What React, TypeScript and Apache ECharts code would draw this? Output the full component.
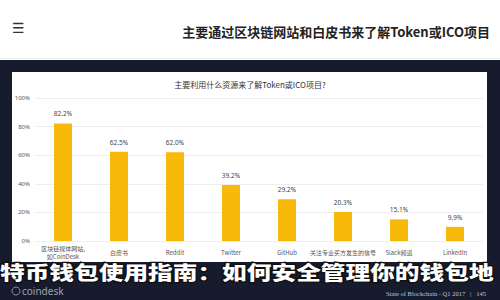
import React, { useEffect, useRef } from "react";
import * as echarts from "echarts";

const categories = [
  "区块链媒体网站,\n如CoinDesk",
  "白皮书",
  "Reddit",
  "Twitter",
  "GitHub",
  "关注专业买方发生的信号",
  "Slack频道",
  "LinkedIn",
];
const values = [82.2, 62.5, 62.0, 39.2, 29.2, 20.3, 15.1, 9.9];
const yTicks = [0, 20, 40, 60, 80, 100];
const pageTitle = "主要通过区块链网站和白皮书来了解Token或ICO项目";
const chartTitle = "主要利用什么资源来了解Token或ICO项目?";
const overlayText = "特币钱包使用指南：如何安全管理你的钱包地";
const footerText = "State of Blockchain - Q1 2017   |   145";

export default function App() {
  const ref = useRef<HTMLDivElement>(null);
  useEffect(() => {
    if (!ref.current) return;
    const chart = echarts.init(ref.current, null, { renderer: "svg" });
    chart.setOption({
      animation: false,
      backgroundColor: "#ffffff",
      graphic: [
        { type: "rect", z: -10, shape: { x: 0, y: 60, width: 500, height: 240 }, style: { fill: "#161b2d" } },
        { type: "line", z: -10, shape: { x1: 0, y1: 58.5, x2: 500, y2: 58.5 }, style: { stroke: "#eeeeee", lineWidth: 1 } },
        { type: "rect", z: -9, shape: { x: 12, y: 72, width: 475, height: 190 }, style: { fill: "#ffffff" } },
        {
          type: "text", x: 12, y: 28,
          style: { text: "☰", fontSize: 14, fill: "#333", verticalAlign: "middle", fontFamily: "DejaVu Sans" },
        },
        {
          type: "text", x: 490, y: 31,
          style: {
            text: pageTitle, fontSize: 13, fontWeight: "bold", fill: "#222", align: "right", verticalAlign: "middle",
            fontFamily: "Noto Sans CJK SC",
          },
        },
        {
          type: "text", x: 250, y: 84,
          style: {
            text: chartTitle, fontSize: 8, fill: "#333", align: "center", verticalAlign: "middle",
            fontFamily: "Noto Sans CJK SC",
          },
        },
        {
          type: "text", x: 0, y: 271, z: 20, scaleX: 1.3,
          style: {
            text: overlayText, fontSize: 19, fontWeight: 900, fill: "#ffffff", stroke: "#111111", lineWidth: 2.5,
            verticalAlign: "middle", fontFamily: "Noto Sans CJK SC",
          },
        },
        {
          type: "circle", shape: { cx: 16, cy: 291, r: 4 }, style: { fill: "none", stroke: "#8a8d96", lineWidth: 1 },
        },
        {
          type: "text", x: 22, y: 291,
          style: { text: "coindesk", fontSize: 10, fill: "#a0a3ab", verticalAlign: "middle", fontFamily: "Noto Sans" },
        },
        {
          type: "text", x: 486, y: 293,
          style: { text: footerText, fontSize: 6.5, fill: "#c3c6ce", align: "right", verticalAlign: "middle", fontFamily: "Liberation Serif" },
        },
      ],
      grid: { left: 35, right: 17, top: 98, bottom: 59, containLabel: false },
      xAxis: {
        type: "category",
        data: categories,
        axisLine: { show: false },
        axisTick: { show: false },
        axisLabel: {
          interval: 0, fontSize: 6, color: "#555", margin: 11, lineHeight: 8, verticalAlign: "middle",
          fontFamily: "Noto Sans CJK SC",
        },
      },
      yAxis: {
        type: "value",
        min: 0,
        max: 100,
        interval: 20,
        axisLine: { show: false },
        axisTick: { show: false },
        splitLine: { lineStyle: { color: "#eeeeee", width: 1 } },
        axisLabel: {
          fontSize: 6, color: "#555", margin: 5,
          formatter: (v: number) => (yTicks.includes(v) ? v + "%" : ""),
          fontFamily: "Noto Sans",
        },
      },
      series: [
        {
          type: "bar",
          data: values,
          barWidth: 18,
          itemStyle: { color: "#f9b90a" },
          label: {
            show: true, position: "top", fontSize: 6.5, color: "#444", distance: 6,
            formatter: (p: any) => p.value.toFixed(1) + "%",
            fontFamily: "Noto Sans",
          },
        },
      ],
    });
    return () => chart.dispose();
  }, []);
  return (
    <div
      ref={ref}
      style={{ position: "fixed", left: 0, top: 0, width: 500, height: 300 }}
    />
  );
}
